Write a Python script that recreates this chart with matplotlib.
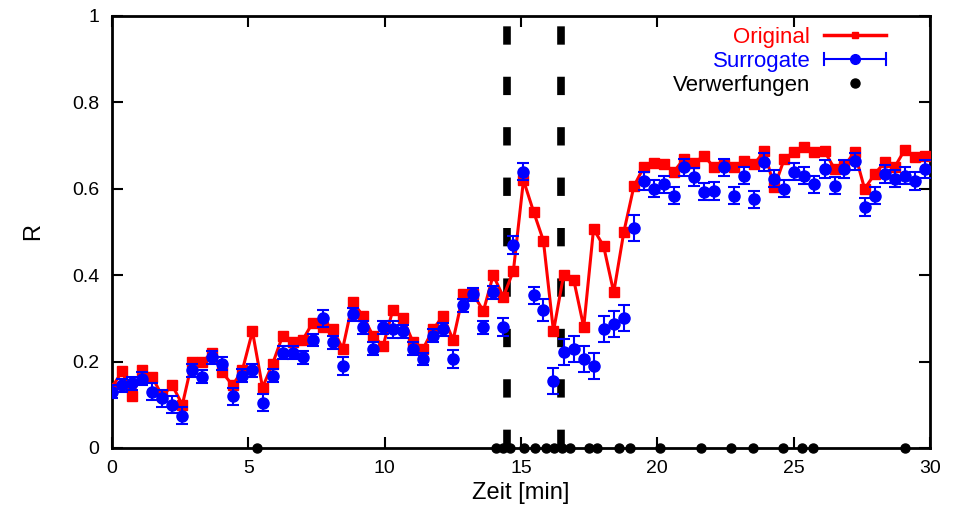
import matplotlib
matplotlib.use("Agg")
import matplotlib.pyplot as plt
from matplotlib.legend_handler import HandlerBase
from matplotlib.lines import Line2D
import numpy as np

plt.rcParams['font.family'] = ['Liberation Sans', 'DejaVu Sans']

time_min = [0.0, 0.37, 0.74, 1.1, 1.47, 1.84, 2.21, 2.58, 2.94, 3.31, 3.68, 4.05, 4.42, 4.78,
            5.15, 5.52, 5.89, 6.26, 6.62, 6.99, 7.36, 7.73, 8.1, 8.46, 8.83, 9.2, 9.57, 9.94,
            10.3, 10.67, 11.04, 11.41, 11.78, 12.14, 12.51, 12.88, 13.25, 13.62, 13.98, 14.35,
            14.72, 15.09, 15.46, 15.82, 16.19, 16.56, 16.93, 17.3, 17.66, 18.03, 18.4, 18.77,
            19.14, 19.5, 19.87, 20.24, 20.61, 20.98, 21.34, 21.71, 22.08, 22.45, 22.82, 23.18,
            23.55, 23.92, 24.29, 24.66, 25.02, 25.39, 25.76, 26.13, 26.5, 26.86, 27.23, 27.6,
            27.97, 28.34, 28.7, 29.07, 29.44, 29.81]

original = [0.14, 0.178, 0.12, 0.18, 0.165, 0.12, 0.145, 0.10, 0.20, 0.20, 0.22, 0.175, 0.145, 0.18,
            0.27, 0.14, 0.195, 0.26, 0.245, 0.25, 0.29, 0.28, 0.275, 0.23, 0.338, 0.306, 0.26, 0.236,
            0.32, 0.30, 0.245, 0.23, 0.275, 0.306, 0.25, 0.356, 0.356, 0.317, 0.40, 0.35,
            0.41, 0.62, 0.547, 0.48, 0.27, 0.40, 0.39, 0.28, 0.507, 0.467, 0.36, 0.50,
            0.606, 0.65, 0.66, 0.657, 0.64, 0.67, 0.66, 0.676, 0.65, 0.657, 0.65, 0.664,
            0.657, 0.687, 0.604, 0.67, 0.685, 0.697, 0.685, 0.687, 0.646, 0.653, 0.685, 0.60,
            0.634, 0.662, 0.65, 0.69, 0.673, 0.676]

surrogate = [0.13, 0.145, 0.15, 0.16, 0.13, 0.115, 0.10, 0.075, 0.18, 0.165, 0.21, 0.195, 0.12, 0.167,
             0.18, 0.105, 0.167, 0.22, 0.22, 0.21, 0.25, 0.30, 0.245, 0.19, 0.31, 0.28, 0.23, 0.28,
             0.275, 0.27, 0.23, 0.206, 0.26, 0.275, 0.206, 0.33, 0.356, 0.28, 0.36, 0.28,
             0.47, 0.64, 0.353, 0.32, 0.155, 0.222, 0.23, 0.206, 0.19, 0.275, 0.287, 0.30,
             0.51, 0.618, 0.60, 0.61, 0.584, 0.65, 0.627, 0.593, 0.595, 0.65, 0.584, 0.63,
             0.576, 0.662, 0.623, 0.60, 0.64, 0.63, 0.61, 0.646, 0.607, 0.646, 0.664, 0.558,
             0.584, 0.634, 0.623, 0.63, 0.618, 0.646]

surrogate_err = [0.015, 0.015, 0.015, 0.015, 0.02, 0.02, 0.02, 0.02, 0.015, 0.015, 0.015, 0.015, 0.02, 0.015,
                 0.015, 0.02, 0.015, 0.015, 0.015, 0.015, 0.015, 0.02, 0.015, 0.02, 0.015, 0.015, 0.015, 0.015,
                 0.02, 0.015, 0.015, 0.015, 0.015, 0.015, 0.02, 0.015, 0.015, 0.015, 0.015, 0.02,
                 0.02, 0.02, 0.02, 0.025, 0.03, 0.03, 0.03, 0.03, 0.03, 0.03, 0.03, 0.03,
                 0.03, 0.02, 0.02, 0.02, 0.02, 0.02, 0.02, 0.02, 0.02, 0.02, 0.02, 0.02,
                 0.02, 0.02, 0.02, 0.02, 0.02, 0.02, 0.02, 0.02, 0.02, 0.02, 0.02, 0.02,
                 0.02, 0.02, 0.02, 0.02, 0.02, 0.02]

verwerfungen = [5.3, 14.1, 14.35, 14.6, 15.1, 15.5, 15.9, 16.2, 16.5, 16.8, 17.5, 17.8,
                18.6, 19.0, 20.1, 21.6, 22.7, 23.5, 24.6, 25.3, 25.7, 29.1]

marker_lines = [14.49, 16.48]

x_ticks = [0, 5, 10, 15, 20, 25, 30]
y_ticks = [0, 0.2, 0.4, 0.6, 0.8, 1.0]
y_ticklabels = ['0', '0.2', '0.4', '0.6', '0.8', '1']


class GnuHandler(HandlerBase):
    """Legend sample in gnuplot style: optional line, optional end caps, marker in the middle."""

    def __init__(self, color, line=True, caps=False, marker='o', ms=6, lw=2.0):
        super().__init__()
        self.color, self.line, self.caps = color, line, caps
        self.marker, self.ms, self.lw = marker, ms, lw

    def create_artists(self, legend, orig_handle, xdescent, ydescent, width, height,
                       fontsize, trans):
        arts = []
        yc = height / 2.0 - ydescent
        x0, x1 = -xdescent, width - xdescent
        if self.line:
            arts.append(Line2D([x0, x1], [yc, yc], color=self.color, lw=self.lw, transform=trans))
        if self.caps:
            cap = height * 0.4
            for xx in (x0, x1):
                arts.append(Line2D([xx, xx], [yc - cap, yc + cap], color=self.color,
                                   lw=self.lw, transform=trans))
        arts.append(Line2D([(x0 + x1) / 2], [yc], color=self.color, marker=self.marker,
                           ms=self.ms, lw=0, transform=trans))
        return arts


fig = plt.figure(figsize=(9.59, 5.26), dpi=100)
ax = fig.add_axes([0.1168, 0.1483, 0.8530, 0.8213])

for xv in marker_lines:
    ax.plot([xv, xv], [0, 1], color='black', lw=5.5, dashes=(2.4, 4.2),
            solid_capstyle='butt', dash_capstyle='butt', zorder=1)

h_orig, = ax.plot(time_min, original, color='#ff0000', lw=2.2, marker='s', ms=7,
                  zorder=3)
ax.errorbar(time_min, surrogate, yerr=surrogate_err, color='#0000ff', lw=0, elinewidth=1.5,
            capsize=4, capthick=1.5, marker='o', ms=8, zorder=4)
h_verw, = ax.plot(verwerfungen, [0] * len(verwerfungen), 'o', color='black', ms=6.5,
                  clip_on=False, zorder=5)

ax.set_xlim(0, 30)
ax.set_ylim(0, 1)
ax.set_xticks(x_ticks)
ax.set_yticks(y_ticks)
ax.set_yticklabels(y_ticklabels)
ax.tick_params(direction='in', length=8, width=1.5, top=True, right=True,
               labelsize=14, pad=9)
for s in ax.spines.values():
    s.set_linewidth(2)

ax.set_xlabel('Zeit [min]', fontsize=17, labelpad=3)
ax.set_ylabel('R', fontsize=17, labelpad=20)

k1, k2, k3 = object(), object(), object()
leg = ax.legend([k1, k2, k3], ['Original', 'Surrogate', 'Verwerfungen'],
                handler_map={k1: GnuHandler('#ff0000', line=True, caps=False, marker='s', ms=5, lw=2.5),
                             k2: GnuHandler('#0000ff', line=True, caps=True, marker='o', ms=7, lw=1.5),
                             k3: GnuHandler('black', line=False, caps=False, marker='o', ms=6.5)},
                loc='upper right', bbox_to_anchor=(0.965, 1.01), frameon=False, markerfirst=False,
                labelcolor=['#ff0000', '#0000ff', 'black'], fontsize=16,
                handlelength=2.8, handletextpad=0.6, labelspacing=0.12, borderaxespad=0.3)
for t in leg.get_texts():
    t.set_ha('right')

fig.savefig('out.png', dpi=100)
